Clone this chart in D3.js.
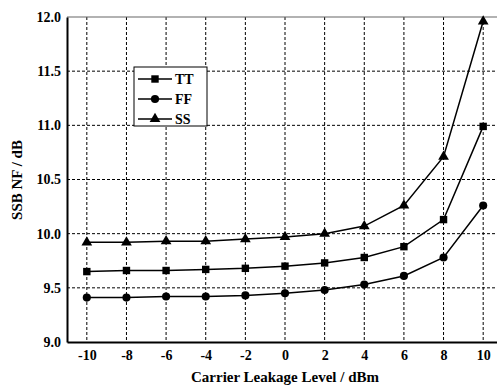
<!DOCTYPE html>
<html>
<head>
<meta charset="utf-8">
<script src="https://cdn.jsdelivr.net/npm/d3@7"></script>
<style>
  body { margin: 0; background: #fff; }
  #chart text { font-family: 'Liberation Serif', 'Times New Roman', Times, serif !important; font-weight: bold; }
</style>
</head>
<body>
<svg id="chart" width="497" height="389"></svg>
<script>
// data
var levels = [-10, -8, -6, -4, -2, 0, 2, 4, 6, 8, 10];
var tt = [9.65, 9.66, 9.66, 9.67, 9.68, 9.70, 9.73, 9.78, 9.88, 10.13, 10.99];
var ff = [9.41, 9.41, 9.42, 9.42, 9.43, 9.45, 9.48, 9.53, 9.61, 9.78, 10.26];
var ss = [9.92, 9.92, 9.93, 9.93, 9.95, 9.97, 10.00, 10.07, 10.26, 10.71, 11.96];
var seriesNames = ["TT", "FF", "SS"];
var yTicks = [9.0, 9.5, 10.0, 10.5, 11.0, 11.5, 12.0];

var FONT = "'Liberation Serif', 'Times New Roman', serif";

var svg = d3.select("#chart")
  .attr("font-family", FONT).attr("font-weight", "bold");
var plotLeft = 67, plotTop = 17, plotBottom = 342, plotRight = 503;

var x = d3.scaleLinear().domain([-11, 11]).range([plotLeft, plotRight]);
var y = d3.scaleLinear().domain([9, 12]).range([plotBottom, plotTop]);

// grid
var grid = svg.append("g");
grid.selectAll(".vg").data(levels).enter().append("line")
  .attr("x1", d => x(d)).attr("x2", d => x(d))
  .attr("y1", plotTop).attr("y2", plotBottom)
  .attr("stroke", "#000").attr("stroke-width", 1).attr("stroke-dasharray", "3,2");
grid.selectAll(".hg").data(yTicks.slice(1, -1)).enter().append("line")
  .attr("x1", plotLeft).attr("x2", plotRight)
  .attr("y1", d => y(d)).attr("y2", d => y(d))
  .attr("stroke", "#000").attr("stroke-width", 1).attr("stroke-dasharray", "3,2");

// top frame line
svg.append("line").attr("x1", plotLeft).attr("x2", plotRight).attr("y1", plotTop).attr("y2", plotTop)
  .attr("stroke", "#666").attr("stroke-width", 1.2);

// axes
var xAxis = d3.axisBottom(x).tickValues(levels).tickSize(0).tickPadding(8).tickFormat(d => String(d));
var gx = svg.append("g").attr("transform", "translate(0," + plotBottom + ")").call(xAxis);
gx.select(".domain").attr("stroke", "#000").attr("stroke-width", 2);

var yAxis = d3.axisLeft(y).tickValues(yTicks).tickSize(0).tickPadding(6).tickFormat(d3.format(".1f"));
var gy = svg.append("g").attr("transform", "translate(" + plotLeft + ",0)").call(yAxis);
gy.select(".domain").attr("stroke", "#000").attr("stroke-width", 2);

gx.attr("font-family", FONT).attr("font-size", 14);
gy.attr("font-family", FONT).attr("font-size", 14);
svg.selectAll(".tick text").attr("fill", "#000").attr("font-weight", "bold");

// axis titles
svg.append("text").attr("x", 285).attr("y", 382).attr("text-anchor", "middle")
  .attr("font-size", 15).text("Carrier Leakage Level / dBm");
svg.append("text").attr("transform", "translate(22,180) rotate(-90)").attr("text-anchor", "middle")
  .attr("font-size", 15).text("SSB NF / dB");

// lines and markers
var data = [tt, ff, ss];
var line = d3.line().x((d, i) => x(levels[i])).y(d => y(d));
var symbols = [d3.symbolSquare, d3.symbolCircle, d3.symbolTriangle];
var sizes = [55, 52, 50];

data.forEach(function (vals, k) {
  svg.append("path").datum(vals).attr("d", line)
    .attr("fill", "none").attr("stroke", "#000").attr("stroke-width", 1.5);
  svg.selectAll(".m" + k).data(vals).enter().append("path")
    .attr("transform", (d, i) => "translate(" + x(levels[i]) + "," + y(d) + ")")
    .attr("d", d3.symbol().type(symbols[k]).size(sizes[k]))
    .attr("fill", "#000");
});

// legend
var lg = svg.append("g").attr("transform", "translate(134,67)");
lg.append("rect").attr("width", 73).attr("height", 59)
  .attr("fill", "#fff").attr("stroke", "#000").attr("stroke-width", 1);
seriesNames.forEach(function (name, k) {
  var yy = 12 + k * 20;
  lg.append("line").attr("x1", 4).attr("x2", 38).attr("y1", yy).attr("y2", yy)
    .attr("stroke", "#000").attr("stroke-width", 1.5);
  lg.append("path").attr("transform", "translate(21," + yy + ")")
    .attr("d", d3.symbol().type(symbols[k]).size(sizes[k])).attr("fill", "#000");
  lg.append("text").attr("x", 41).attr("y", yy + 5).attr("font-size", 14).text(name);
});
</script>
</body>
</html>
